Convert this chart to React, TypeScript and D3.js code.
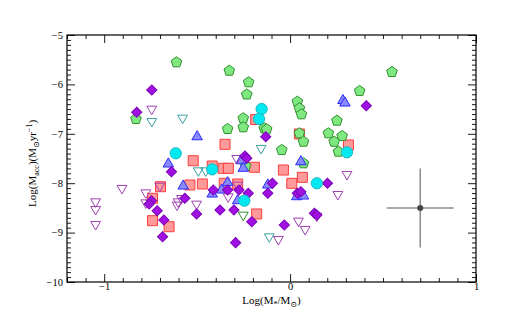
import * as d3 from 'd3';
import { useEffect, useRef } from 'react';

// log M*, log Macc
const greenPentagons = [
  [-0.611, -5.553], [-0.829, -6.70], [-0.327, -5.723], [-0.223, -5.957], [-0.233, -6.204],
  [-0.252, -6.686], [-0.252, -6.868], [-0.336, -6.903], [-0.139, -6.889], [-0.126, -6.909],
  [-0.045, -7.328], [0.039, -6.35], [0.05, -6.484], [0.061, -6.605], [0.05, -6.99],
  [0.072, -7.16], [0.206, -6.99], [0.548, -5.749], [0.374, -6.134], [0.252, -6.735],
  [0.28, -7.045], [0.237, -7.16], [0.26, -7.362], [-0.239, -7.652], [0.072, -7.597],
];
const redSquares = [
  [-0.185, -6.711], [-0.35, -7.213], [-0.521, -7.545], [-0.419, -7.652], [-0.36, -7.698],
  [-0.332, -7.698], [-0.192, -7.678], [-0.036, -7.733], [0.066, -7.881], [0.009, -8.002],
  [0.05, -7.004], [0.314, -7.227], [-0.539, -8.036], [-0.472, -8.016], [-0.354, -8.002],
  [-0.282, -8.016], [-0.697, -8.071], [-0.74, -8.306], [-0.74, -8.759], [-0.651, -8.881],
  [-0.18, -8.623],
];
const blueTriangles = [
  [-0.5, -7.059], [-0.655, -7.611], [-0.575, -8.057], [-0.264, -7.545], [-0.252, -7.698],
  [-0.336, -7.99], [-0.419, -8.219], [-0.368, -8.138], [-0.282, -8.354], [-0.12, -8.036],
  [0.058, -7.565], [0.036, -8.273], [0.072, -8.259], [0.284, -6.326], [0.295, -6.377],
];
const purpleUpperLimits = [
  [-0.744, -6.498], [-1.046, -8.374], [-1.046, -8.528], [-1.046, -8.832], [-0.904, -8.103],
  [-0.701, -8.057], [-0.776, -8.192], [-0.776, -8.395], [-0.602, -8.374], [-0.608, -8.441],
  [-0.584, -8.306], [-0.503, -8.421], [-0.287, -7.496], [-0.333, -8.273], [-0.282, -8.036],
  [0.306, -7.82], [0.257, -8.225], [0.144, -8.664], [0.045, -8.765], [0.081, -8.933],
  [-0.063, -9.136],
];
const tealUpperLimits = [
  [-0.744, -6.747], [-0.578, -6.68], [-0.494, -7.747], [-0.454, -7.747], [-0.156, -7.293],
  [-0.112, -9.083],
];
const greenUpperLimits = [[-0.252, -8.644]];
const violetDiamonds = [
  [-0.744, -6.113], [-0.825, -6.565], [-0.638, -7.767], [0.41, -6.431], [-0.131, -7.059],
  [-0.243, -7.449], [-0.233, -7.496], [-0.746, -8.354], [-0.758, -8.421], [-0.715, -8.557],
  [-0.679, -8.745], [-0.686, -9.083], [-0.566, -8.306], [-0.503, -8.623], [-0.413, -8.138],
  [-0.336, -8.138], [-0.275, -8.138], [-0.225, -8.204], [-0.095, -8.002], [-0.12, -8.204],
  [0.039, -8.204], [0.058, -8.172], [0.201, -8.002], [0.131, -8.609], [0.144, -8.644],
  [-0.377, -8.543], [-0.302, -8.543], [-0.206, -8.779], [-0.031, -8.846], [-0.293, -9.204],
];
const cyanCircles = [
  [-0.615, -7.395], [-0.153, -6.498], [-0.167, -6.70], [-0.419, -7.719], [-0.246, -8.354],
  [0.144, -8.002], [0.306, -7.374],
];
// typical error bar
const errorPoint = [0.70, -8.5];
const errorSize = [0.18, 0.8];

const xMajor = [-1, 0, 1];
const xTickLabels = ['−1', '0', '1'];
const yMajor = [-10, -9, -8, -7, -6, -5];
const yTickLabels = ['−10', '−9', '−8', '−7', '−6', '−5'];

const W = 518;
const H = 324;

function pentagonPath(r) {
  const pts = d3.range(5).map(i => {
    const a = -Math.PI / 2 + (i * 2 * Math.PI) / 5;
    return [r * Math.cos(a), r * Math.sin(a)];
  });
  return d3.line().curve(d3.curveLinearClosed)(pts);
}

function ScatterMacc() {
  const svgRef = useRef(null);

  useEffect(() => {
    const svg = d3.select(svgRef.current);
    svg.selectAll('*').remove();

    const margin = { top: 35, right: 42, bottom: 42, left: 67 };
    const x = d3.scaleLinear().domain([-1.2, 1]).range([margin.left, W - margin.right]);
    const y = d3.scaleLinear().domain([-10, -5]).range([H - margin.bottom, margin.top]);

    const font = "'Liberation Serif', 'DejaVu Serif', serif";

    const xMinor = d3.range(-1.2, 1.0001, 0.1).map(v => +v.toFixed(2)).filter(v => !xMajor.includes(v));
    const yMinor = d3.range(-10, -4.999, 0.1).map(v => +v.toFixed(2)).filter(v => !yMajor.includes(v));

    const styleAxis = g => {
      g.selectAll('.domain').remove();
      g.selectAll('.tick line').attr('stroke', '#000').attr('stroke-width', 0.9);
      g.selectAll('.tick text').attr('font-family', font).attr('font-size', 10.5).attr('fill', '#000');
    };

    // bottom
    svg.append('g').attr('transform', `translate(0,${y(-10)})`)
      .call(d3.axisBottom(x).tickValues(xMinor).tickSize(-4).tickFormat(() => '')).call(styleAxis);
    svg.append('g').attr('transform', `translate(0,${y(-10)})`)
      .call(d3.axisBottom(x).tickValues(xMajor).tickSize(-8).tickPadding(1)
        .tickFormat((d, i) => xTickLabels[i])).call(styleAxis);
    // top
    svg.append('g').attr('transform', `translate(0,${y(-5)})`)
      .call(d3.axisTop(x).tickValues(xMinor).tickSize(-4).tickFormat(() => '')).call(styleAxis);
    svg.append('g').attr('transform', `translate(0,${y(-5)})`)
      .call(d3.axisTop(x).tickValues(xMajor).tickSize(-8).tickFormat(() => '')).call(styleAxis);
    // left
    svg.append('g').attr('transform', `translate(${x(-1.2)},0)`)
      .call(d3.axisLeft(y).tickValues(yMinor).tickSize(-4).tickFormat(() => '')).call(styleAxis);
    svg.append('g').attr('transform', `translate(${x(-1.2)},0)`)
      .call(d3.axisLeft(y).tickValues(yMajor).tickSize(-8).tickPadding(4)
        .tickFormat((d, i) => yTickLabels[i])).call(styleAxis);
    // right
    svg.append('g').attr('transform', `translate(${x(1)},0)`)
      .call(d3.axisRight(y).tickValues(yMinor).tickSize(-4).tickFormat(() => '')).call(styleAxis);
    svg.append('g').attr('transform', `translate(${x(1)},0)`)
      .call(d3.axisRight(y).tickValues(yMajor).tickSize(-8).tickFormat(() => '')).call(styleAxis);

    svg.append('rect')
      .attr('x', x(-1.2)).attr('y', y(-5))
      .attr('width', x(1) - x(-1.2)).attr('height', y(-10) - y(-5))
      .attr('fill', 'none').attr('stroke', '#000').attr('stroke-width', 1.2);

    const drawSeries = (data, path, fill, stroke, rotate) => {
      svg.append('g').selectAll('path')
        .data(data)
        .enter().append('path')
        .attr('d', path)
        .attr('transform', d => `translate(${x(d[0])},${y(d[1])}) rotate(${rotate})`)
        .attr('fill', fill)
        .attr('stroke', stroke)
        .attr('stroke-width', 1);
    };

    drawSeries(redSquares, d3.symbol(d3.symbolSquare, 100)(), '#ff9a9a', '#ff3b3b', 0);
    drawSeries(greenPentagons, pentagonPath(5.6), '#80e880', '#2f8f2f', 0);
    drawSeries(blueTriangles, d3.symbol(d3.symbolTriangle, 48)(), '#8a8aff', '#2a2aff', 0);
    drawSeries(purpleUpperLimits, d3.symbol(d3.symbolTriangle, 42)(), 'none', '#a040b0', 180);
    drawSeries(tealUpperLimits, d3.symbol(d3.symbolTriangle, 42)(), 'none', '#3aa0a0', 180);
    drawSeries(greenUpperLimits, d3.symbol(d3.symbolTriangle, 42)(), 'none', '#2f8f2f', 180);
    drawSeries(violetDiamonds, d3.symbol(d3.symbolSquare, 52)(), '#a010e0', '#7a00b8', 45);
    drawSeries(cyanCircles, d3.symbol(d3.symbolCircle, 100)(), '#00e8f0', '#1fb8c0', 0);

    // error cross
    const eb = svg.append('g').attr('stroke', '#8c8c8c').attr('stroke-width', 1.5);
    eb.append('line')
      .attr('x1', x(errorPoint[0] - errorSize[0])).attr('x2', x(errorPoint[0] + errorSize[0]))
      .attr('y1', y(errorPoint[1])).attr('y2', y(errorPoint[1]));
    eb.append('line')
      .attr('x1', x(errorPoint[0])).attr('x2', x(errorPoint[0]))
      .attr('y1', y(errorPoint[1] - errorSize[1])).attr('y2', y(errorPoint[1] + errorSize[1]));
    svg.append('circle')
      .attr('cx', x(errorPoint[0])).attr('cy', y(errorPoint[1]))
      .attr('r', 3).attr('fill', '#444');

    // axis titles
    const xt = svg.append('text')
      .attr('x', x(-0.1)).attr('y', 304)
      .attr('text-anchor', 'middle')
      .attr('font-family', font).attr('font-size', 11);
    xt.append('tspan').text('Log(M');
    xt.append('tspan').attr('font-size', 8).attr('dy', 3).text('*');
    xt.append('tspan').attr('dy', -3).text('/M');
    xt.append('tspan').attr('font-size', 8).attr('dy', 3).text('⊙');
    xt.append('tspan').attr('dy', -3).text(')');

    const yt = svg.append('text')
      .attr('transform', `translate(36,${y(-7.6)}) rotate(-90)`)
      .attr('text-anchor', 'middle')
      .attr('font-family', font).attr('font-size', 11);
    yt.append('tspan').text('Log(M');
    yt.append('tspan').attr('font-size', 8).attr('dy', 3).text('acc');
    yt.append('tspan').attr('dy', -3).text(')(M');
    yt.append('tspan').attr('font-size', 8).attr('dy', 3).text('⊙');
    yt.append('tspan').attr('dy', -3).text('yr');
    yt.append('tspan').attr('font-size', 8).attr('dy', -4).text('−1');
    yt.append('tspan').attr('dy', 4).text(')');

    return () => { svg.selectAll('*').remove(); };
  }, []);

  return (
    <svg ref={svgRef} width={W} height={H}
      style={{ position: 'absolute', left: 0, top: 0, background: '#fff' }} />
  );
}

export default function App() {
  return <ScatterMacc />;
}
